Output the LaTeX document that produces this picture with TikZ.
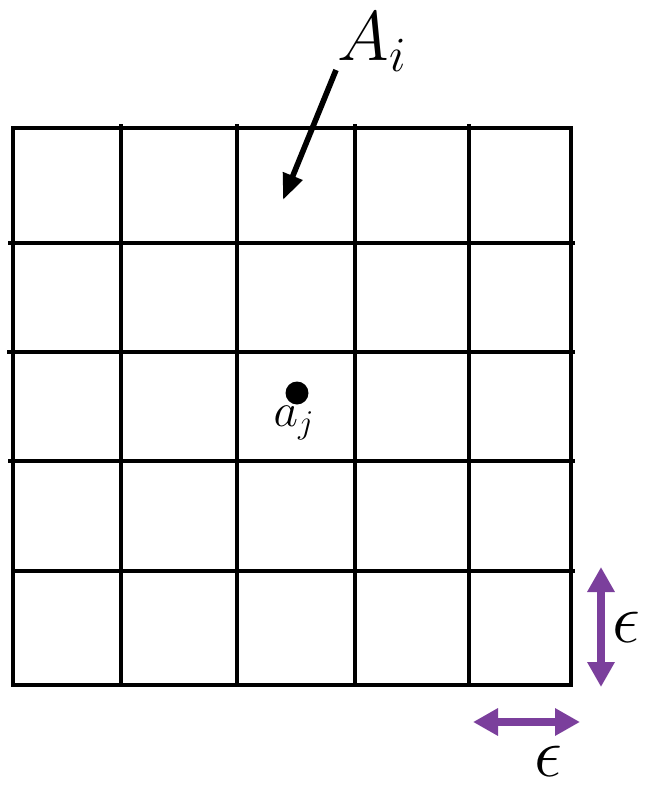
\RequirePackage{fix-cm}
\documentclass[tikz,border=0pt]{standalone}
\usepackage{amsmath,amssymb}
\usepackage{tikz}
\usetikzlibrary{arrows.meta, positioning, calc}
\definecolor{EpsPurple}{HTML}{7B3F9C}

\begin{document}
\begin{tikzpicture}[x=0.02cm, y=-0.02cm, line join=miter]
    \tikzstyle{gridline} = [line width=2.7pt, black]
    \tikzstyle{pointer} = [line width=3.2pt, -{Triangle[length=0.52cm, width=0.4cm]}]
    \tikzstyle{scalearrow} = [line width=4pt, EpsPurple, {Triangle[length=0.5cm, width=0.52cm]}-{Triangle[length=0.5cm, width=0.52cm]}]
    \tikzstyle{biglabel} = [inner sep=0pt, font=\fontsize{40}{44}\selectfont]
    \useasboundingbox (0,0) rectangle (648,788);

    % grid of cells
    \draw [gridline] (13,128) rectangle (571,685);
    \foreach \gx in {121,237,355,469}
        \draw [gridline] (\gx,124) -- (\gx,687);
    \foreach \gy/\gl in {243/8,352/7,461/8,571/12}
        \draw [gridline] (\gl,\gy) -- (575,\gy);

    % the cell A_i
    \node [biglabel] (Alabel) at (372,42) {$A_i$};
    \coordinate (Acell) at (283,200);
    \draw [pointer] (336,70) -- (Acell);

    % the point a_j
    \node [circle, fill=black, inner sep=0pt, minimum size=0.46cm] (dot) at (297,393) {};
    \node [inner sep=0pt, font=\fontsize{27}{30}\selectfont, below=0.02cm of dot, xshift=-0.06cm] (alabel) {$a_j$};

    % side length epsilon
    \coordinate (vtop) at (601,567);
    \coordinate (vbot) at (601,687);
    \draw [scalearrow] (vtop) -- (vbot);
    \node [biglabel, right=0.22cm of $(vtop)!0.5!(vbot)$] (epsv) {$\epsilon$};
    \coordinate (hleft) at (473,722);
    \coordinate (hright) at (580,722);
    \draw [scalearrow] (hleft) -- (hright);
    \node [biglabel] (epsh) at (548,761) {$\epsilon$};
\end{tikzpicture}
\end{document}
